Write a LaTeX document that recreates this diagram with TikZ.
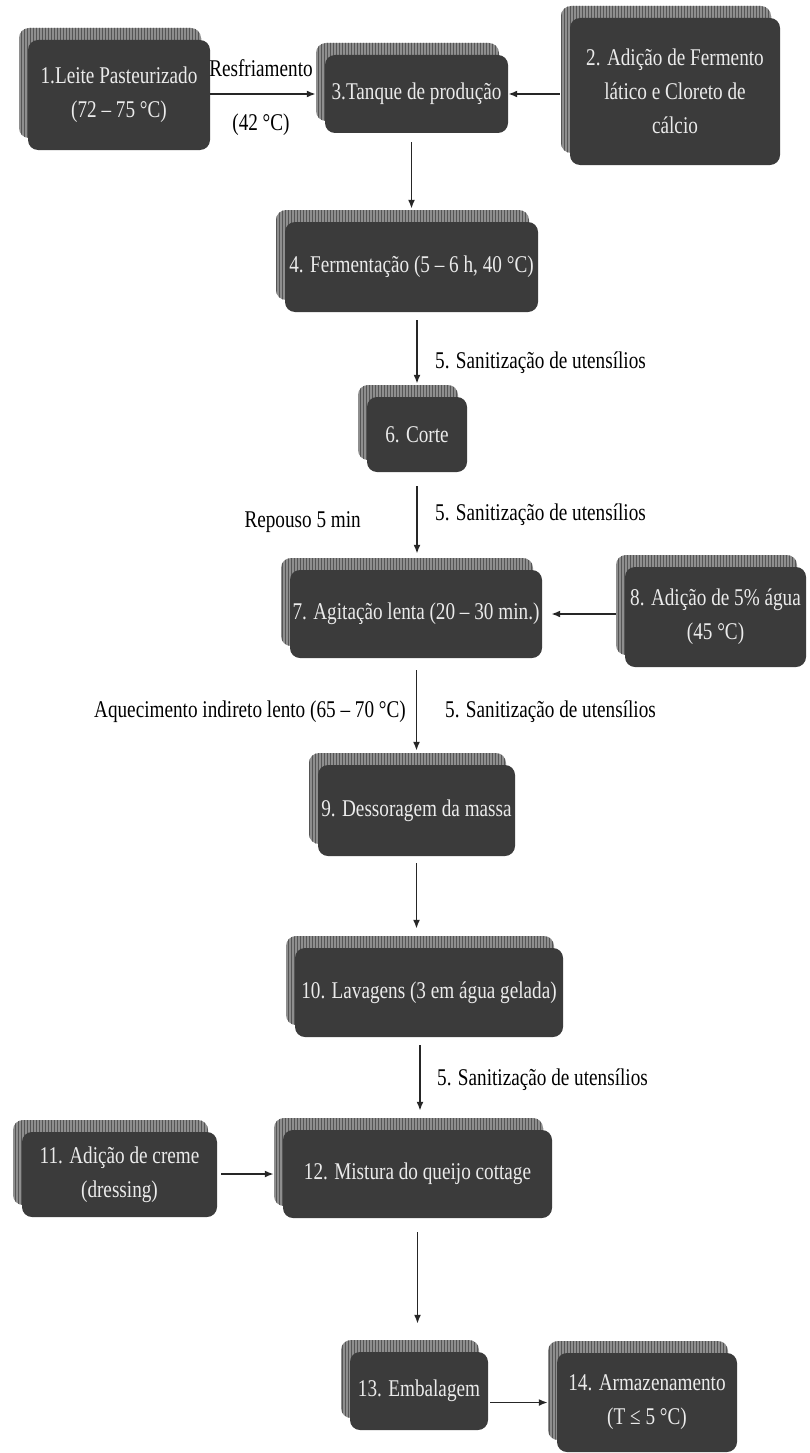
\documentclass[tikz,border=0pt]{standalone}
\usepackage{fontspec}
\setmainfont{Liberation Serif}[FakeStretch=0.8]
\usetikzlibrary{arrows.meta,shadows,patterns}
\definecolor{boxfill}{HTML}{3B3B3B}
\definecolor{shd}{HTML}{8E8E8E}
\definecolor{shdline}{HTML}{555555}
\begin{document}
\begin{tikzpicture}[x=1pt,y=-1pt,
  every node/.style={font=\fontsize{24}{34}\selectfont},
  box/.style={draw=none, fill=boxfill, rounded corners=10pt, text=white!92!black,
    align=center, inner sep=0pt,
    general shadow={shadow xshift=-9pt, shadow yshift=12pt, fill=shd},
    general shadow={shadow xshift=-9pt, shadow yshift=12pt, pattern=vertical lines, pattern color=shdline}},
  arr/.style={line width=1.8pt, draw=black!85, -{Latex[length=9pt,width=7pt]}},
  lbl/.style={text=black, inner sep=0pt}]
\useasboundingbox (0,0) rectangle (809,1453);

% boxes
\node[box, minimum width=182pt, minimum height=110pt] (n1) at (119,95) {1.Leite Pasteurizado\\(72 – 75 °C)};
\node[box, minimum width=183pt, minimum height=78pt] (n3) at (416.5,94) {3.Tanque de produção};
\node[box, minimum width=210pt, minimum height=147pt] (n2) at (675,91.5) {2. Adição de Fermento\\lático e Cloreto de\\cálcio};
\node[box, minimum width=253pt, minimum height=90pt] (n4) at (411.5,267) {4. Fermentação (5 – 6 h, 40 °C)};
\node[box, minimum width=100pt, minimum height=75pt] (n6) at (417,434.5) {6. Corte};
\node[box, minimum width=252pt, minimum height=88pt] (n7) at (416,614) {7. Agitação lenta (20 – 30 min.)};
\node[box, minimum width=181pt, minimum height=100pt] (n8) at (715.5,617) {8. Adição de 5\% água\\(45 °C)};
\node[box, minimum width=197pt, minimum height=91pt] (n9) at (416.5,810.5) {9. Dessoragem da massa};
\node[box, minimum width=268pt, minimum height=89pt] (n10) at (429,992.5) {10. Lavagens (3 em água gelada)};
\node[box, minimum width=195pt, minimum height=85pt] (n11) at (119.5,1174.5) {11. Adição de creme\\(dressing)};
\node[box, minimum width=269pt, minimum height=88pt] (n12) at (417.5,1174) {12. Mistura do queijo cottage};
\node[box, minimum width=138pt, minimum height=78pt] (n13) at (419,1391) {13. Embalagem};
\node[box, minimum width=180pt, minimum height=99pt] (n14) at (647,1402.5) {14. Armazenamento\\(T ≤ 5 °C)};

% horizontal connectors
\draw[arr, shorten >=9pt] (n1.east |- n3.west) -- (n3.west);
\draw[arr, shorten <=10pt] (n2.west |- n3.east) -- (n3.east);
\draw[arr, shorten <=9pt] (n8.west |- n7.east) -- ([xshift=9pt]n7.east);
\draw[arr, shorten <=4pt, shorten >=9pt] (n11.east |- n12.west) -- (n12.west);
\draw[arr, shorten <=2pt, shorten >=9pt] (n13.east |- n14.west) -- (n14.west);

% vertical connectors
\draw[arr, shorten <=9pt, shorten >=13pt] (n3.south -| n4.north) -- (n4.north);
\draw[arr, shorten <=8pt, shorten >=13pt] (n4.south -| n6.north) -- (n6.north);
\draw[arr, shorten <=14pt, shorten >=16pt] (n6.south) -- (n6.south |- n7.north);
\draw[arr, shorten <=12pt, shorten >=14pt] (n7.south -| n9.north) -- (n9.north);
\draw[arr, shorten <=7pt, shorten >=19pt] (n9.south) -- (n9.south |- n10.north);
\draw[arr, shorten <=8pt, shorten >=19pt] ([xshift=-9pt]n10.south) -- ([xshift=-9pt]n10.south |- n12.north);
\draw[arr, shorten <=14pt, shorten >=28pt] (n12.south) -- (n12.south |- n13.north);

% labels
\node[lbl] (r1) at (261,68) {Resfriamento};
\node[lbl] (r2) at (261,125) {(42 °C)};
\node[lbl, anchor=west] (s1) at (435,363) {5. Sanitização de utensílios};
\node[lbl, anchor=west] (s2) at (435,515) {5. Sanitização de utensílios};
\node[lbl, anchor=east] (rp) at (361,522) {Repouso 5 min};
\node[lbl, anchor=east] (aq) at (406,712) {Aquecimento indireto lento (65 – 70 °C)};
\node[lbl, anchor=west] (s3) at (445,712) {5. Sanitização de utensílios};
\node[lbl, anchor=west] (s4) at (437,1080) {5. Sanitização de utensílios};
\end{tikzpicture}
\end{document}
